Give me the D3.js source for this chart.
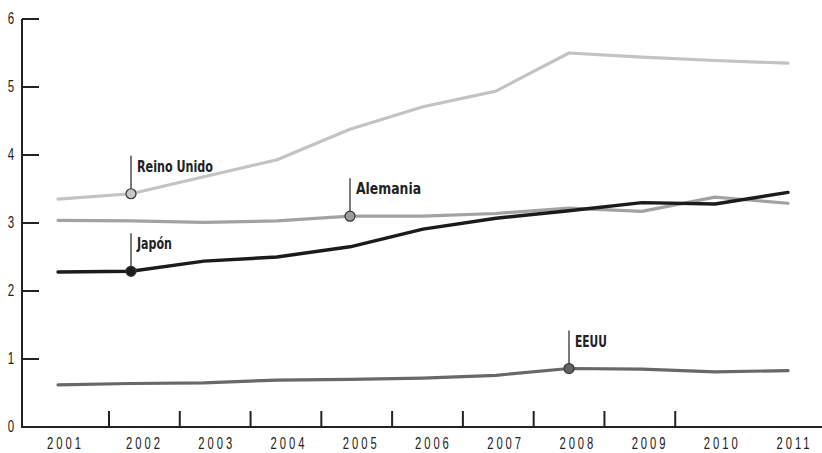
<!DOCTYPE html>
<html>
<head>
<meta charset="utf-8">
<script src="https://cdn.jsdelivr.net/npm/d3@7"></script>
<style>
  html, body { margin: 0; padding: 0; background: #fff; }
  svg { display: block; }
  .tick-label { font-family: "Liberation Sans", "DejaVu Sans Condensed", sans-serif; font-size: 16px; fill: #222; }
  .year-label { font-family: "Liberation Sans", "DejaVu Sans Condensed", sans-serif; font-size: 17px; fill: #222; }
  .series-label { font-family: "DejaVu Sans Condensed", "Liberation Sans", sans-serif; font-weight: bold; font-size: 16.5px; fill: #222; }
</style>
</head>
<body>
<script>
// ---- data ----
const years = ["2001","2002","2003","2004","2005","2006","2007","2008","2009","2010","2011"];
const yTicks = [0, 1, 2, 3, 4, 5, 6];
const reinoUnido = [3.35, 3.43, 3.68, 3.93, 4.38, 4.71, 4.94, 5.50, 5.44, 5.39, 5.35];
const alemania   = [3.04, 3.03, 3.01, 3.03, 3.10, 3.10, 3.14, 3.22, 3.17, 3.38, 3.29];
const japon      = [2.28, 2.29, 2.44, 2.50, 2.65, 2.91, 3.07, 3.18, 3.30, 3.28, 3.45];
const eeuu       = [0.62, 0.64, 0.65, 0.69, 0.70, 0.72, 0.76, 0.86, 0.85, 0.81, 0.83];
const seriesNames = ["Reino Unido", "Alemania", "Japón", "EEUU"];
const seriesValues = [reinoUnido, alemania, japon, eeuu];
const labelYears = ["2002", "2005", "2002", "2008"];

// ---- styles ----
const lineColors   = ["#c3c3c3", "#a2a2a2", "#1b1b1b", "#686868"];
const markerFills  = ["#c6c6c6", "#9c9c9c", "#1b1b1b", "#626262"];
const lineWidths   = [3.2, 3.2, 3.4, 3.2];
const labelWidths  = [76, 65, 35, 32];

const W = 822, H = 453;
const svg = d3.select("body").append("svg").attr("width", W).attr("height", H);

// scales
const x = d3.scalePoint().domain(years).range([58, 788]);
const xLabel = d3.scaleLinear().domain([1, 10]).range([143, 793]);
const xTick = d3.scaleLinear().domain([1.5, 10.5]).range([109, 746]);
const y = d3.scaleLinear().domain([0, 6]).range([427, 19]);

const axisColor = "#222";
const axisLeftX = 22;

// y axis line
svg.append("line")
  .attr("x1", axisLeftX).attr("x2", axisLeftX)
  .attr("y1", y(6)).attr("y2", y(0) + 1)
  .attr("stroke", axisColor).attr("stroke-width", 2);
// x axis line
svg.append("line")
  .attr("x1", axisLeftX - 1).attr("x2", W)
  .attr("y1", y(0)).attr("y2", y(0))
  .attr("stroke", axisColor).attr("stroke-width", 2);

// y ticks (inside, to the right)
svg.selectAll(".ytick").data(yTicks.filter(d => d > 0)).enter().append("line")
  .attr("x1", axisLeftX).attr("x2", axisLeftX + 17)
  .attr("y1", d => y(d)).attr("y2", d => y(d))
  .attr("stroke", axisColor).attr("stroke-width", 2);
svg.selectAll(".ylab").data(yTicks).enter().append("text")
  .attr("class", "tick-label")
  .attr("transform", d => `translate(11,${y(d) + 4.5}) scale(0.72,1)`)
  .attr("text-anchor", "middle")
  .text(d => d);

// x tick marks between years
const tickIdx = d3.range(1.5, 10.5, 1);
svg.selectAll(".xtick").data(tickIdx).enter().append("line")
  .attr("x1", d => xTick(d)).attr("x2", d => xTick(d))
  .attr("y1", y(0) - 16).attr("y2", y(0))
  .attr("stroke", axisColor).attr("stroke-width", 2);

// x labels
svg.selectAll(".xlab").data(years).enter().append("text")
  .attr("class", "year-label")
  .attr("transform", (d, i) => `translate(${(i === 0 ? 64 : xLabel(i)) + 1.5},448.5) scale(0.66,1)`)
  .attr("text-anchor", "middle")
  .attr("letter-spacing", "4.5px")
  .text(d => d);

// lines
const line = d3.line()
  .x((d, i) => x(years[i]))
  .y(d => y(d));

const drawOrder = [3, 1, 0, 2];
drawOrder.forEach(k => {
  svg.append("path")
    .datum(seriesValues[k])
    .attr("fill", "none")
    .attr("stroke", lineColors[k])
    .attr("stroke-width", lineWidths[k])
    .attr("stroke-linejoin", "round")
    .attr("stroke-linecap", "round")
    .attr("d", line);
});

// markers, leaders and labels
seriesNames.forEach((name, k) => {
  const yr = labelYears[k];
  const idx = years.indexOf(yr);
  const cx = x(yr), cy = y(seriesValues[k][idx]);
  svg.append("line")
    .attr("x1", cx).attr("x2", cx)
    .attr("y1", cy).attr("y2", cy - 38)
    .attr("stroke", "#333").attr("stroke-width", 1.3);
  svg.append("circle")
    .attr("cx", cx).attr("cy", cy).attr("r", 5)
    .attr("fill", markerFills[k])
    .attr("stroke", "#333").attr("stroke-width", 1.2);
  svg.append("text")
    .attr("class", "series-label")
    .attr("x", cx + 6).attr("y", cy - 38 + 16)
    .attr("textLength", labelWidths[k]).attr("lengthAdjust", "spacingAndGlyphs")
    .text(name);
});
</script>
</body>
</html>
